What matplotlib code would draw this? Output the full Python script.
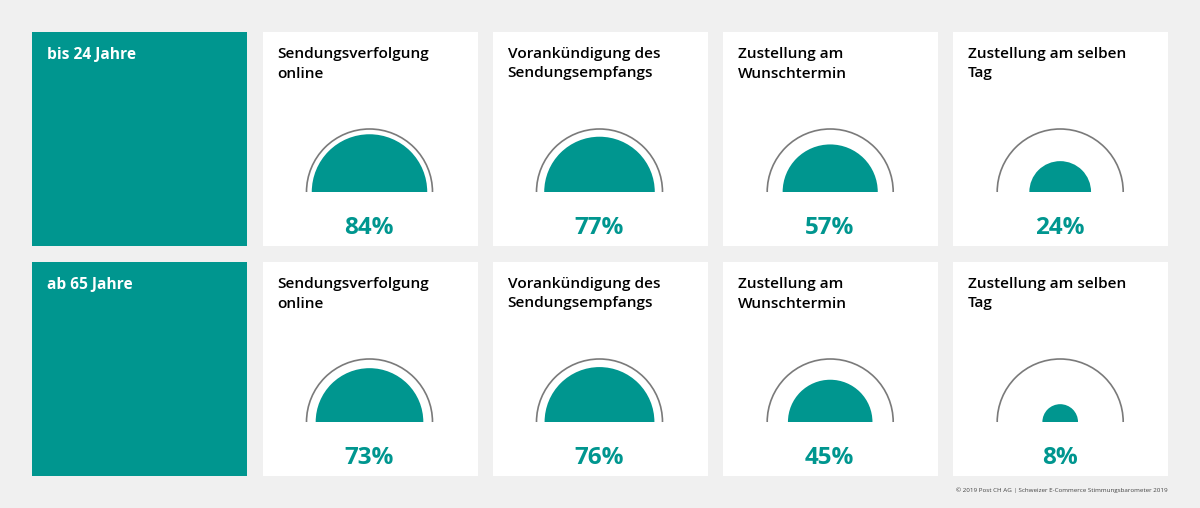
import math
import matplotlib
matplotlib.use("Agg")
import matplotlib.pyplot as plt
from matplotlib.patches import Rectangle, Wedge, Arc

plt.rcParams['font.family'] = ['Open Sans', 'Noto Sans', 'DejaVu Sans']

age_groups = ["bis 24 Jahre", "ab 65 Jahre"]
services = ["Sendungsverfolgung\nonline", "Vorankündigung des\nSendungsempfangs",
            "Zustellung am\nWunschtermin", "Zustellung am selben\nTag"]
values_young = [84, 77, 57, 24]
values_old = [73, 76, 45, 8]
rows = [values_young, values_old]
source = "© 2019 Post CH AG | Schweizer E-Commerce Stimmungsbarometer 2019"

TEAL = "#00968f"
BG = "#f0f0f0"
GREY = "#7a7a7a"
R_OUT = 63

fig = plt.figure(figsize=(12, 5.08), dpi=100, facecolor=BG)
ax = fig.add_axes([0, 0, 1, 1])
ax.set_xlim(0, 1200)
ax.set_ylim(508, 0)
ax.axis("off")

card_x = [263, 493, 723, 953]
gauge_dx = [106.5, 106.5, 107.2, 107.2]
row_y = [32, 262]
CARD_W, CARD_H = 215, 214

for top, group, vals in zip(row_y, age_groups, rows):
    ax.add_patch(Rectangle((32, top), CARD_W, CARD_H, fc=TEAL, ec="none"))
    ax.text(47, top + 22.5, group, color="white", fontsize=11.2, fontweight="bold",
            va="center", ha="left")
    for left, dx, name, v in zip(card_x, gauge_dx, services, vals):
        ax.add_patch(Rectangle((left, top), CARD_W, CARD_H, fc="white", ec="none"))
        ax.text(left + 14.5, top + 15, name, color="black", fontsize=11.05,
                fontweight="semibold", va="top", ha="left", linespacing=1.5)
        cx = left + dx
        cy = top + 160
        ax.add_patch(Arc((cx, cy), 2 * R_OUT, 2 * R_OUT, theta1=180, theta2=360,
                         ec=GREY, lw=1.2))
        ax.add_patch(Wedge((cx, cy), R_OUT * math.sqrt(v / 100), 180, 360,
                           fc=TEAL, ec="none"))
        ax.text(cx - 0.5, top + 196.5, f"{v}%", color=TEAL, fontsize=17.5,
                fontweight="bold", va="center", ha="center")

ax.text(1168, 490.5, source, color="#444444", fontsize=4.5, va="center", ha="right")

fig.savefig("out.png", dpi=100, facecolor=BG)
